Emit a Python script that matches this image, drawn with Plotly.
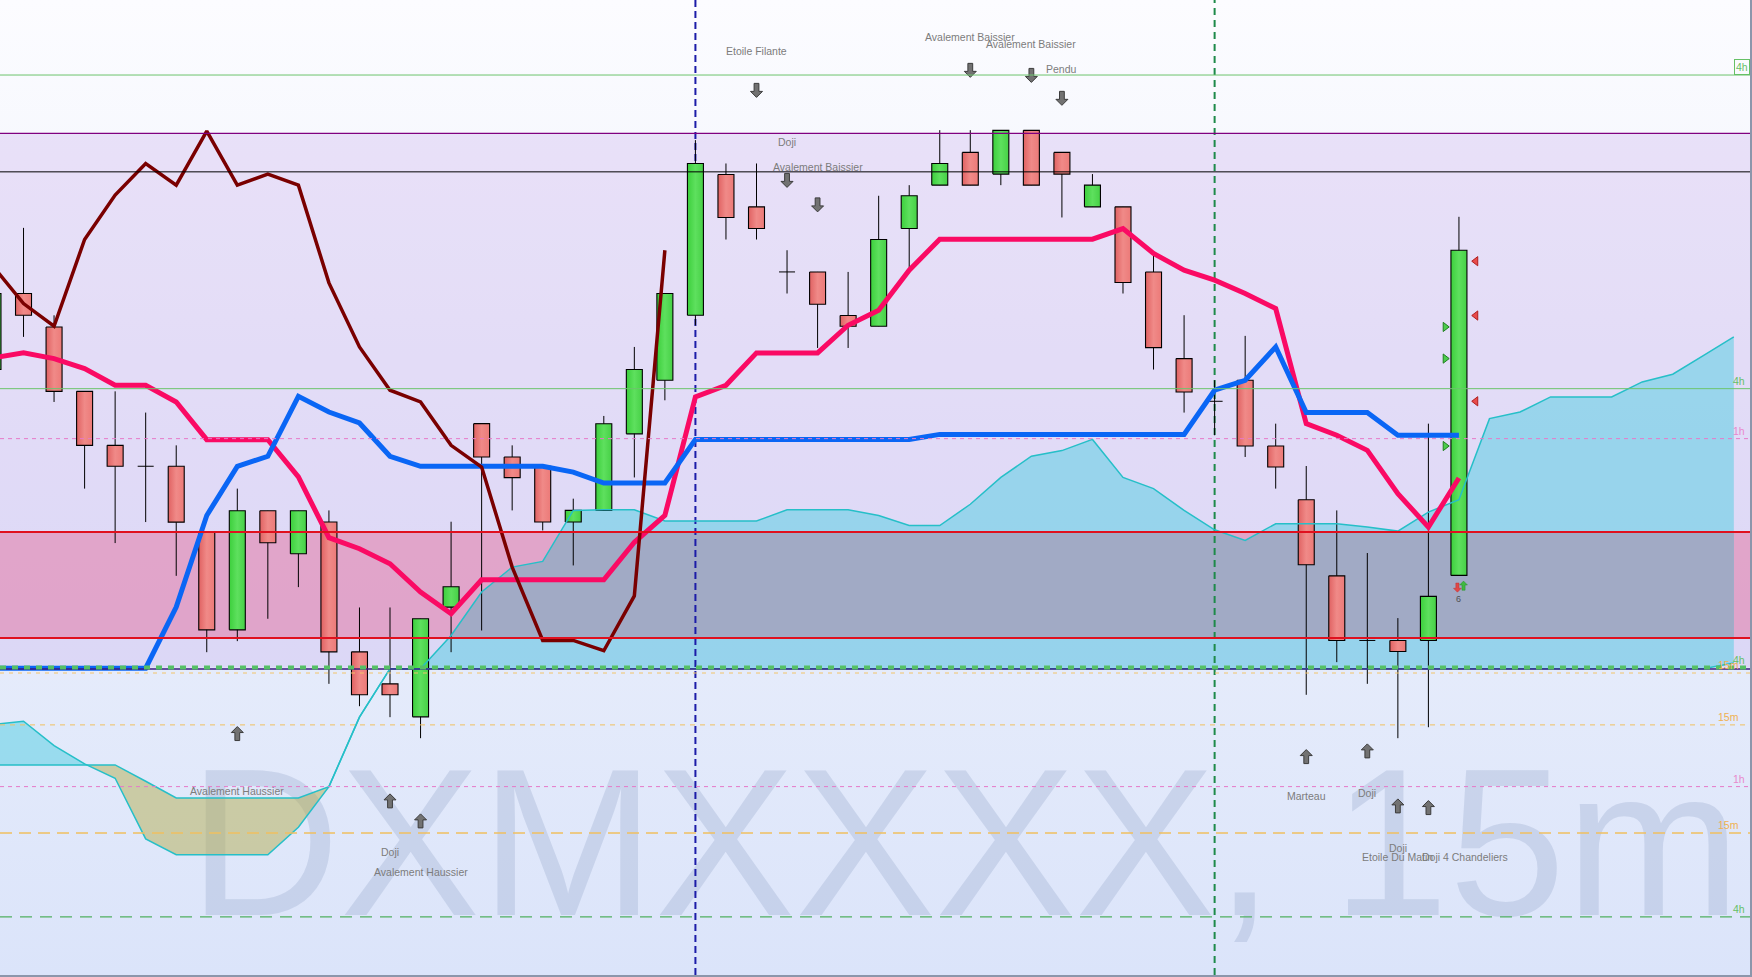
import plotly.graph_objects as go

# ---------------- data ----------------
candle_index = list(range(49))
open_ = [669.5, 737.5, 707.6, 650, 601.7, 583, 583, 524.1, 436.7, 543.2,
         504.7, 533.1, 417, 388.4, 358.9, 457, 621.1, 591.3, 583, 533.1,
         543.5, 612, 659.9, 718.1, 844, 815, 756.8, 756.8, 717.8, 708.2,
         795.6, 834.4, 863.7, 844.3, 883.4, 863.7, 815, 815, 756.8, 679.3,
         641.1, 659.9, 601.1, 553.1, 485, 427.2, 427.2, 427.2, 485.4]
high = [737.5, 796.2, 718, 650, 650, 631, 601.7, 524.1, 563, 543.2,
        543.2, 543.5, 456.7, 456.7, 446.6, 533.4, 621.1, 601.7, 583, 554,
        628, 689.7, 737.5, 874.7, 853.8, 853.8, 776.2, 756.8, 756.8, 824.9,
        834.4, 883.6, 883.6, 883.4, 883.4, 863.7, 844.3, 815, 773.3, 718.1,
        659.9, 699.6, 621.1, 583.2, 543.5, 505.4, 447.2, 621.1, 806.1]
low = [669.5, 698.7, 640.5, 563, 514.3, 533.1, 485, 416.7, 426.6, 446.6,
       474.9, 388.4, 368.4, 358.6, 339.8, 416.7, 436.1, 543.5, 525.6, 494.3,
       543.5, 573, 642, 709.1, 785.8, 785.8, 737.5, 688.8, 688.8, 708.2,
       758.3, 834.4, 834.4, 834.4, 834.4, 805.5, 815, 737.5, 669.5, 631,
       610.7, 591.3, 563, 378.6, 407.8, 388.4, 339.8, 349.6, 485.4]
close = [737.5, 718, 650, 601.7, 583, 583, 533, 436.7, 543.2, 514.6,
         543.2, 417, 378.6, 378.6, 446.6, 475.2, 591.3, 572.8, 533.1, 543.5,
         621, 669.5, 737.5, 853.8, 805.5, 795.6, 756.8, 727.9, 708.2, 785.8,
         824.9, 853.8, 834.4, 883.4, 834.4, 844.3, 834.4, 747.3, 689.1, 649.4,
         641.1, 601.1, 582.3, 494.9, 427.2, 427.2, 417.3, 466.6, 776.2]

tenkan = [680, 684.4, 679.3, 670.3, 655.4, 655.4, 640.5, 606.8, 606.8, 606.8,
          573.4, 519.1, 509.2, 495.8, 470.5, 451.1, 481.5, 481.5, 481.5, 481.5,
          481.5, 515, 539, 645, 655.4, 684.4, 684.4, 684.4, 709.1, 722.5,
          758.3, 786.1, 786.1, 786.1, 786.1, 786.1, 786.1, 795.6, 773.3, 758.3,
          749.4, 737.5, 724, 621.1, 610.7, 597.2, 558.5, 528.6, 572.5]
kijun = [402.4, 402.4, 402.4, 402.4, 402.4, 402.4, 457, 539, 582.9, 591.9,
         645.6, 631.5, 621.7, 591.9, 582.9, 582.9, 582.9, 582.9, 582.9, 577.8,
         568, 568, 568, 607, 607, 607, 607, 607, 607, 607,
         607, 611.5, 611.5, 611.5, 611.5, 611.5, 611.5, 611.5, 611.5, 611.5,
         651, 659.9, 689.7, 631, 631, 631, 610.7, 610.7, 610.7]
chikou = [762, 728.5, 708.2, 785.8, 825.5, 853.8, 834.4, 882.8, 834.4, 844.3,
          834.4, 747, 689.7, 651, 640.5, 601.7, 582.3, 492.8, 427.2, 427.2,
          418, 467, 776.2]
span_index = list(range(58))
span_a = [352, 355, 333.2, 316.8, 304, 249.7, 235.6, 235.6, 235.6, 235.6,
          260.1, 296.5, 358.6, 402, 402, 431.7, 470.5, 492.8, 497.9, 543.5,
          544, 544, 534, 534, 534, 534, 544, 544, 544, 539,
          530, 530, 549, 573, 592, 597, 607, 573, 563, 543.5,
          526.2, 516.7, 531.6, 531.6, 531.6, 528.6, 525, 542, 553.1, 625.6,
          631.5, 645, 645, 645, 658.4, 665.3, 682, 698.7]
span_b = [315.9, 315.9, 315.9, 315.9, 315.9, 301.3, 286.4, 286.4, 286.4, 286.4,
          286.4, 296.5, 358.6, 402, 402, 402, 402, 402, 402, 402,
          402, 402, 402, 402, 402, 402, 402, 402, 402, 402,
          402, 402, 402, 402, 402, 402, 402, 402, 402, 402,
          402, 402, 402, 402, 402, 402, 402, 402, 402, 402,
          402, 402, 402, 402, 402, 402, 402, 407]

zone_top, zone_bottom = 524.2, 429.4
zone_level_top = 880.7      # purple level
lavender_floor = 403.0      # green dashed 4h level
vline_index = [23, 40]

level_price = [932.9, 880.7, 846.3, 652.4, 607.7, 403.0, 401.7, 398.1, 351.7, 296.5, 255.0, 180.0]
level_tag = ["4h", "", "", "4h", "1h", "4h", "", "15m", "15m", "1h", "15m", "4h"]

bear_idx = [25, 26, 27, 32, 34, 35]
bear_tip = [912.9, 832.4, 810.5, 930.8, 926.3, 905.8]
bear_text = ["Etoile Filante", "Doji", "Avalement Baissier", "Avalement Baissier", "Avalement Baissier", "Pendu"]
bear_text_y = [954.6, 873.2, 850.8, 967.2, 960.4, 938.2]

bull_idx = [8, 13, 14, 43, 45, 46, 47]
bull_tip = [350.2, 290, 272.1, 329.6, 334.7, 285.5, 284]
bull_labels = [(8, "Avalement Haussier", 292.3), (13, "Doji", 237.7), (14, "Avalement Haussier", 219.8),
               (43, "Marteau", 287.8), (45, "Doji", 290.5), (46, "Doji", 241.7),
               (46, "Etoile Du Matin", 233.3)]
left_label = (47, "Doji 4 Chandeliers", 233.3)

sell_marks = [766.4, 717.8, 641.1]
buy_marks = [707.6, 679.3, 601.1]
signal_count = "6"

# ---------------- geometry helpers ----------------
X0, X1 = 0.23, 57.53
Y0, Y1 = 128.0, 1000.0
PW, PH = 1750, 975
PX = (X1 - X0) / PW
PY = (Y1 - Y0) / PH
HW = 8 * PX  # candle half-body width

fig = go.Figure()

def poly(xs, ys, color, line_color=None, lw=0):
    fig.add_trace(go.Scatter(x=xs, y=ys, fill="toself", fillcolor=color, mode="lines",
                             line=dict(color=line_color or "rgba(0,0,0,0)", width=lw),
                             hoverinfo="skip"))

# background gradient
fig.add_trace(go.Scatter(x=[X0, X1, X1, X0, X0], y=[Y0, Y0, Y1, Y1, Y0], fill="toself", mode="lines",
                         line=dict(width=0, color="rgba(0,0,0,0)"),
                         fillgradient=dict(type="vertical", start=Y0, stop=Y1,
                                           colorscale=[[0, "#dbe4fa"], [0.35, "#e6ecfb"], [1, "#fcfcff"]]),
                         hoverinfo="skip"))
# lavender band
poly([X0, X1, X1, X0, X0], [lavender_floor, lavender_floor, zone_level_top, zone_level_top, lavender_floor],
     "rgba(200,170,235,0.30)")
# pink zone
poly([X0, X1, X1, X0, X0], [zone_bottom, zone_bottom, zone_top, zone_top, zone_bottom],
     "rgba(228,92,140,0.42)")

# watermark
fig.add_trace(go.Scatter(x=[6.4], y=[229], mode="text", text=["DXMXXXX, 15m"],
                         textposition="middle right",
                         textfont=dict(family="Liberation Sans", size=210, color="rgba(160,175,210,0.37)"),
                         hoverinfo="skip"))

# cloud fills, split at crossings
def cloud_segments(xs, a, b):
    segs = []
    cx, ca, cb = [xs[0]], [a[0]], [b[0]]
    d = a[0] - b[0]
    sign = (d > 0) if d != 0 else None
    for k in range(1, len(xs)):
        d0 = a[k - 1] - b[k - 1]
        d1 = a[k] - b[k]
        if d0 * d1 < 0:
            t = d0 / (d0 - d1)
            xc = xs[k - 1] + t * (xs[k] - xs[k - 1])
            yc = a[k - 1] + t * (a[k] - a[k - 1])
            cx.append(xc); ca.append(yc); cb.append(yc)
            segs.append((cx, ca, cb, sign))
            cx, ca, cb = [xc], [yc], [yc]
            sign = d1 > 0
        elif d0 == 0 and d1 != 0 and sign is not None and (d1 > 0) != sign:
            segs.append((cx, ca, cb, sign))
            cx, ca, cb = [xs[k - 1]], [a[k - 1]], [b[k - 1]]
            sign = d1 > 0
        elif sign is None and d1 != 0:
            sign = d1 > 0
        cx.append(xs[k]); ca.append(a[k]); cb.append(b[k])
    segs.append((cx, ca, cb, sign))
    return segs

for cx, ca, cb, up in cloud_segments(span_index, span_a, span_b):
    poly(cx + cx[::-1], ca + cb[::-1], "rgba(80,205,225,0.5)" if up else "rgba(180,174,80,0.5)")

# overlap of cloud with the pink zone
def clip_line(xs, ys, lo, hi):
    ox, oy = [xs[0]], [min(max(ys[0], lo), hi)]
    for k in range(1, len(xs)):
        y0_, y1_ = ys[k - 1], ys[k]
        ts = []
        for lv in (lo, hi):
            if (y0_ - lv) * (y1_ - lv) < 0:
                ts.append((lv - y0_) / (y1_ - y0_))
        for t in sorted(ts):
            ox.append(xs[k - 1] + t * (xs[k] - xs[k - 1]))
            oy.append(min(max(y0_ + t * (y1_ - y0_), lo), hi))
        ox.append(xs[k]); oy.append(min(max(y1_, lo), hi))
    return ox, oy

ox, oy = clip_line(span_index, span_a, zone_bottom, zone_top)
poly(ox + [ox[-1], ox[0]], oy + [zone_bottom, zone_bottom], "#a1aac5")

# vertical session lines
fig.add_trace(go.Scatter(x=[vline_index[0]] * 2, y=[Y0, Y1], mode="lines",
                         line=dict(color="#1c1ca8", width=2, dash="7px,4px"), hoverinfo="skip"))
fig.add_trace(go.Scatter(x=[vline_index[1]] * 2, y=[Y0, Y1], mode="lines",
                         line=dict(color="#1e8a4a", width=2, dash="7px,5px"), hoverinfo="skip"))

# candles: wicks
wx, wy = [], []
for i, h, l in zip(candle_index, high, low):
    wx += [i, i, None]; wy += [l, h, None]
fig.add_trace(go.Scatter(x=wx, y=wy, mode="lines", line=dict(color="black", width=1), hoverinfo="skip"))
# bodies
dx, dy = [], []
for i, o, c in zip(candle_index, open_, close):
    if o == c:
        dx += [i - HW, i + HW, None]; dy += [o, o, None]
        continue
    if c > o:
        cs = [[0, "#3ccf3c"], [0.5, "#5ee05e"], [1, "#46d046"]]
    else:
        cs = [[0, "#e06262"], [0.5, "#f08a88"], [1, "#ec7a78"]]
    fig.add_trace(go.Scatter(x=[i - HW, i + HW, i + HW, i - HW, i - HW], y=[o, o, c, c, o],
                             fill="toself", mode="lines", line=dict(color="black", width=1.1),
                             fillgradient=dict(type="horizontal", start=i - HW, stop=i + HW, colorscale=cs),
                             hoverinfo="skip"))
fig.add_trace(go.Scatter(x=dx, y=dy, mode="lines", line=dict(color="black", width=1), hoverinfo="skip"))

# indicator lines
fig.add_trace(go.Scatter(x=span_index, y=span_b, mode="lines", line=dict(color="#26bfc8", width=1.5), hoverinfo="skip"))
fig.add_trace(go.Scatter(x=span_index, y=span_a, mode="lines", line=dict(color="#26bfc8", width=1.5), hoverinfo="skip"))
fig.add_trace(go.Scatter(x=candle_index, y=tenkan, mode="lines", line=dict(color="#fa0a64", width=5), hoverinfo="skip"))
fig.add_trace(go.Scatter(x=candle_index, y=kijun, mode="lines", line=dict(color="#0a66f5", width=5), hoverinfo="skip"))
fig.add_trace(go.Scatter(x=candle_index[:len(chikou)], y=chikou, mode="lines", line=dict(color="#7a0000", width=3.5), hoverinfo="skip"))

# block arrows
def arrow_pts(xc, tip, up, s=1.0):
    hw, sw = 6 * s * PX, 2.4 * s * PX
    hh, tl = 6 * s * PY, 14 * s * PY
    g = -1 if up else 1
    return ([xc, xc - hw, xc - sw, xc - sw, xc + sw, xc + sw, xc + hw, xc, None],
            [tip, tip + g * hh, tip + g * hh, tip + g * tl, tip + g * tl, tip + g * hh, tip + g * hh, tip, None])

ax_, ay_ = [], []
for i, t in zip(bear_idx, bear_tip):
    px_, py_ = arrow_pts(i, t, False); ax_ += px_; ay_ += py_
for i, t in zip(bull_idx, bull_tip):
    px_, py_ = arrow_pts(i, t, True); ax_ += px_; ay_ += py_
poly(ax_, ay_, "#727272", "#3c3c3c", 1)

# small signal arrows under last candle
rx, ry = arrow_pts(candle_index[-1] - 0.05, 470.4, False, 0.65)
poly(rx, ry, "#e04848", "#c03030", 0.5)
gx, gy = arrow_pts(candle_index[-1] + 0.15, 480.3, True, 0.65)
poly(gx, gy, "#40b840", "#2a902a", 0.5)

fig.add_trace(go.Scatter(x=[candle_index[-1] + 0.55] * len(sell_marks), y=sell_marks, mode="markers",
                         marker=dict(symbol="triangle-left", size=8, color="#e84a4a", line=dict(color="#b02020", width=1)),
                         hoverinfo="skip"))
fig.add_trace(go.Scatter(x=[candle_index[-1] - 0.45] * len(buy_marks), y=buy_marks, mode="markers",
                         marker=dict(symbol="triangle-right", size=8, color="#4ccc4c", line=dict(color="#208020", width=1)),
                         hoverinfo="skip"))

# ---------------- level lines (above) ----------------
def hline(y, color, width=1, dash="solid"):
    fig.add_shape(type="line", xref="paper", x0=0, x1=1, yref="y", y0=y, y1=y, layer="above",
                  line=dict(color=color, width=width, dash=dash))

hline(level_price[0], "#6cc46c", 1)
hline(level_price[1], "#800080", 1.2)
hline(level_price[2], "#000000", 1)
hline(level_price[3], "#6cc46c", 1)
hline(level_price[4], "#e67ac8", 1, "4px,4px")
hline(zone_top, "#e0101e", 2)
hline(zone_bottom, "#e0101e", 2)
hline(level_price[6], "#3a1a80", 1.5)
hline(level_price[5], "#55c065", 4, "6px,6px")
hline(level_price[7], "#f2c46a", 1, "4px,5px")
hline(level_price[8], "#f0c060", 1, "5px,5px")
hline(level_price[9], "#e67ac8", 1, "4px,4px")
hline(level_price[10], "#f0c060", 1.5, "12px,7px")
hline(level_price[11], "#50b060", 1.2, "12px,8px")

tag_color = {"4h": "#66c066", "1h": "#e888cc", "15m": "#f0b050"}
for k, (p, tg) in enumerate(zip(level_price, level_tag)):
    if not tg:
        continue
    if k == 0:
        fig.add_annotation(xref="paper", x=1.0, xanchor="right", y=p, yanchor="bottom", text=tg,
                           showarrow=False, font=dict(family="Liberation Sans", size=10.5, color=tag_color[tg]),
                           bordercolor=tag_color[tg], borderwidth=1, borderpad=1)
    else:
        fig.add_annotation(xref="paper", x=0.998 if tg != "15m" else 0.995, xanchor="right", y=p,
                           yanchor="bottom", yshift=0, text=tg, showarrow=False,
                           font=dict(family="Liberation Sans", size=10.5, color=tag_color[tg]))

# pattern labels
lab_font = dict(family="Liberation Sans", size=10.5, color="#7c7c7c")
for i, t, y in zip(bear_idx, bear_text, bear_text_y):
    fig.add_annotation(x=i, y=y, text=t, showarrow=False, font=lab_font)
for i, t, y in bull_labels:
    fig.add_annotation(x=i, y=y, text=t, showarrow=False, font=lab_font)
fig.add_annotation(x=left_label[0] - HW, y=left_label[2], text=left_label[1], xanchor="left",
                   showarrow=False, font=lab_font)
fig.add_annotation(x=candle_index[-1], y=464.5, text=signal_count, showarrow=False,
                   font=dict(family="Liberation Sans", size=9, color="#505050"))

fig.update_layout(
    width=1752, height=977,
    margin=dict(l=0, r=2, t=0, b=2),
    paper_bgcolor="#8c96ab", plot_bgcolor="#ffffff",
    showlegend=False, hovermode=False,
    xaxis=dict(range=[X0, X1], visible=False, fixedrange=True),
    yaxis=dict(range=[Y0, Y1], visible=False, fixedrange=True),
)

fig.write_html("out.html", config={"displayModeBar": False},
               post_script="document.body.style.margin='0px';document.body.style.overflow='hidden';")
